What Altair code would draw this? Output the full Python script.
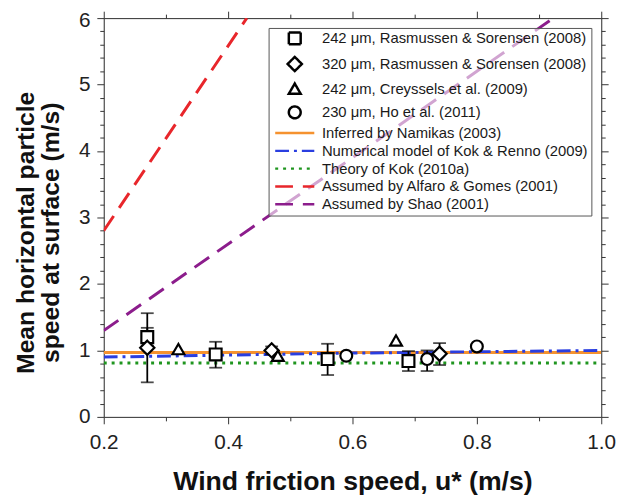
import altair as alt
import pandas as pd

# ---------------- data ----------------
SERIES = [
    "242 μm, Rasmussen & Sorensen (2008)",
    "320 μm, Rasmussen & Sorensen (2008)",
    "242 μm, Creyssels et al. (2009)",
    "230 μm, Ho et al. (2011)",
    "Inferred by Namikas (2003)",
    "Numerical model of Kok & Renno (2009)",
    "Theory of Kok (2010a)",
    "Assumed by Alfaro & Gomes (2001)",
    "Assumed by Shao (2001)",
]

# measurements (x = u*, y = speed, lo/hi = error bar ends)
sq_x = [0.27, 0.38, 0.56, 0.69]
sq_y = [1.20, 0.94, 0.87, 0.84]
sq_lo = [1.07, 0.74, 0.63, 0.69]
sq_hi = [1.34, 1.13, 1.10, 0.99]

dm_x = [0.27, 0.47, 0.74]
dm_y = [1.04, 1.00, 0.95]
dm_lo = [0.52, 0.94, 0.78]
dm_hi = [1.56, 1.06, 1.11]

tr_x = [0.32, 0.48, 0.67]
tr_y = [1.02, 0.92, 1.15]
tr_lo = [None, None, None]
tr_hi = [None, None, None]

ci_x = [0.59, 0.72, 0.80]
ci_y = [0.92, 0.87, 1.06]
ci_lo = [None, 0.69, None]
ci_hi = [None, 1.00, None]

# model / assumption lines
nam_x = [0.2, 1.0]
nam_y = [0.97, 0.97]
kr_x = [0.2, 0.4, 0.6, 0.8, 1.0]
kr_y = [0.90, 0.93, 0.96, 0.98, 1.00]
kok_x = [0.2, 1.0]
kok_y = [0.81, 0.81]
ag_x = [0.2, 0.43]
ag_y = [2.80, 6.00]
sh_x = [0.2, 0.923]
sh_y = [1.30, 6.00]

x_ticks = [0.2, 0.3, 0.4, 0.5, 0.6, 0.7, 0.8, 0.9, 1.0]
y_ticks = [0, 0.2, 0.4, 0.6, 0.8, 1, 1.2, 1.4, 1.6, 1.8, 2, 2.2, 2.4, 2.6, 2.8, 3,
           3.2, 3.4, 3.6, 3.8, 4, 4.2, 4.4, 4.6, 4.8, 5, 5.2, 5.4, 5.6, 5.8, 6]

# ---------------- tables ----------------
pts = []
for name, xs, ys, los, his in [
    (SERIES[0], sq_x, sq_y, sq_lo, sq_hi),
    (SERIES[1], dm_x, dm_y, dm_lo, dm_hi),
    (SERIES[2], tr_x, tr_y, tr_lo, tr_hi),
    (SERIES[3], ci_x, ci_y, ci_lo, ci_hi),
]:
    for a, b, c, d in zip(xs, ys, los, his):
        pts.append({"series": name, "x": a, "y": b, "lo": c, "hi": d})
pts = pd.DataFrame(pts)
err = pts.dropna(subset=["lo"])

lines = []
for name, xs, ys in [
    (SERIES[4], nam_x, nam_y),
    (SERIES[5], kr_x, kr_y),
    (SERIES[6], kok_x, kok_y),
    (SERIES[7], ag_x, ag_y),
    (SERIES[8], sh_x, sh_y),
]:
    for i, (a, b) in enumerate(zip(xs, ys)):
        lines.append({"series": name, "x": a, "y": b, "order": i})
lines = pd.DataFrame(lines)

COLORS = ["black", "black", "black", "black",
          "#f5922f", "#2a3ee0", "#1f951f", "#e8262b", "#8c1d8c"]
LEGLINE = "M-3.3,0H3.3"
SHAPES = ["square", "M0,-1.2L1.2,0L0,1.2L-1.2,0Z", "triangle-up", "circle",
          LEGLINE, LEGLINE, LEGLINE, LEGLINE, LEGLINE]
DASHES = [[1, 0], [1, 0], [1, 0], [1, 0],
          [1, 0], [14, 5, 3, 5], [3, 5], [18, 10], [18, 10]]

leg = alt.Legend(
    title=None, orient="none", legendX=167, legendY=10,
    fillColor="rgba(255,255,255,0.6)", strokeColor="#555555",
    padding=3, labelFont="Liberation Sans", labelFontSize=15,
    labelColor="#1a1a1a", labelLimit=0, labelOffset=20,
    symbolOffset=16, symbolSize=144,
    symbolStrokeWidth=2.5, rowPadding=2,
)

color = alt.Color("series:N", scale=alt.Scale(domain=SERIES, range=COLORS), legend=leg)
shape = alt.Shape("series:N", scale=alt.Scale(domain=SERIES, range=SHAPES), legend=leg)
dash = alt.StrokeDash("series:N", scale=alt.Scale(domain=SERIES, range=DASHES), legend=leg)

xscale = alt.Scale(domain=[0.2, 1.0], nice=False, zero=False)
yscale = alt.Scale(domain=[0, 6], nice=False)

xmajor = "abs(datum.value*5 - round(datum.value*5)) < 0.001"
ymajor = "abs(datum.value - round(datum.value)) < 0.001"

x_axis = alt.Axis(
    values=x_ticks, labelExpr=f"({xmajor}) ? format(datum.value, '.1f') : ''",
    tickSize={"condition": {"test": xmajor, "value": 7}, "value": 4},
    title="Wind friction speed, u* (m/s)", titleFont="Liberation Sans",
    titleFontSize=27, titleFontWeight="bold", titlePadding=17,
    labelFont="Liberation Sans", labelFontSize=21, labelPadding=8,
    grid=False, domainColor="#333333", tickColor="#333333", labelColor="#222222",
    titleColor="#111111", labelFlush=False,
)
y_axis = alt.Axis(
    values=y_ticks, labelExpr=f"({ymajor}) ? format(datum.value, 'd') : ''",
    tickSize={"condition": {"test": ymajor, "value": 7}, "value": 4},
    labelOffset={"condition": {"test": "datum.value == 6", "value": 3}, "value": 0},
    title=["Mean horizontal particle", "speed at surface (m/s)"],
    titleFont="Liberation Sans", titleFontSize=25, titleFontWeight="bold",
    titleLineHeight=25, titleX=-66, titleY=217, titleAngle=270,
    titleAlign="center", titleBaseline="bottom",
    labelFont="Liberation Sans", labelFontSize=21, labelPadding=7,
    grid=False, domainColor="#333333", tickColor="#333333", labelColor="#222222",
    titleColor="#111111", labelFlush=False,
)
x_top = alt.Axis(
    orient="top", values=x_ticks, labels=False, title=None, grid=False,
    tickSize={"condition": {"test": xmajor, "value": 7}, "value": 4},
    domainColor="#333333", tickColor="#333333",
)
y_right = alt.Axis(
    orient="right", values=y_ticks, labels=False, title=None, grid=False,
    tickSize={"condition": {"test": ymajor, "value": 7}, "value": 4},
    domainColor="#333333", tickColor="#333333",
)

line_layer = alt.Chart(lines).mark_line(strokeWidth=3, clip=True).encode(
    x=alt.X("x:Q", scale=xscale, axis=x_axis),
    y=alt.Y("y:Q", scale=yscale, axis=y_axis),
    color=color, strokeDash=dash, order="order:Q", detail="series:N",
)

frame_layer = alt.Chart(lines).mark_line(opacity=0).encode(
    x=alt.X("x:Q", scale=xscale, axis=x_top),
    y=alt.Y("y:Q", scale=yscale, axis=y_right),
    detail="series:N",
)

rule_layer = alt.Chart(err).mark_rule(color="black", strokeWidth=1.8).encode(
    x=alt.X("x:Q", scale=xscale, axis=None),
    y=alt.Y("lo:Q", scale=yscale, axis=None),
    y2="hi:Q",
)
cap_lo = alt.Chart(err).mark_tick(color="black", orient="horizontal", size=13, thickness=1.8).encode(
    x=alt.X("x:Q", scale=xscale, axis=None),
    y=alt.Y("lo:Q", scale=yscale, axis=None),
)
cap_hi = alt.Chart(err).mark_tick(color="black", orient="horizontal", size=13, thickness=1.8).encode(
    x=alt.X("x:Q", scale=xscale, axis=None),
    y=alt.Y("hi:Q", scale=yscale, axis=None),
)

point_layer = alt.Chart(pts).mark_point(
    filled=False, fill="white", strokeWidth=2.2, opacity=1, size=144
).encode(
    x=alt.X("x:Q", scale=xscale, axis=None),
    y=alt.Y("y:Q", scale=yscale, axis=None),
    color=color, shape=shape,
)

chart = alt.layer(
    line_layer, frame_layer, rule_layer, cap_lo, cap_hi, point_layer
).resolve_axis(x="independent", y="independent").properties(
    width=504, height=404,
    autosize=alt.AutoSizeParams(type="none"),
    padding={"left": 97, "top": 7, "right": 19, "bottom": 84},
).configure_view(stroke=None).configure(background="white")

chart.save("out.html", embed_options={"renderer": "svg", "actions": False})
